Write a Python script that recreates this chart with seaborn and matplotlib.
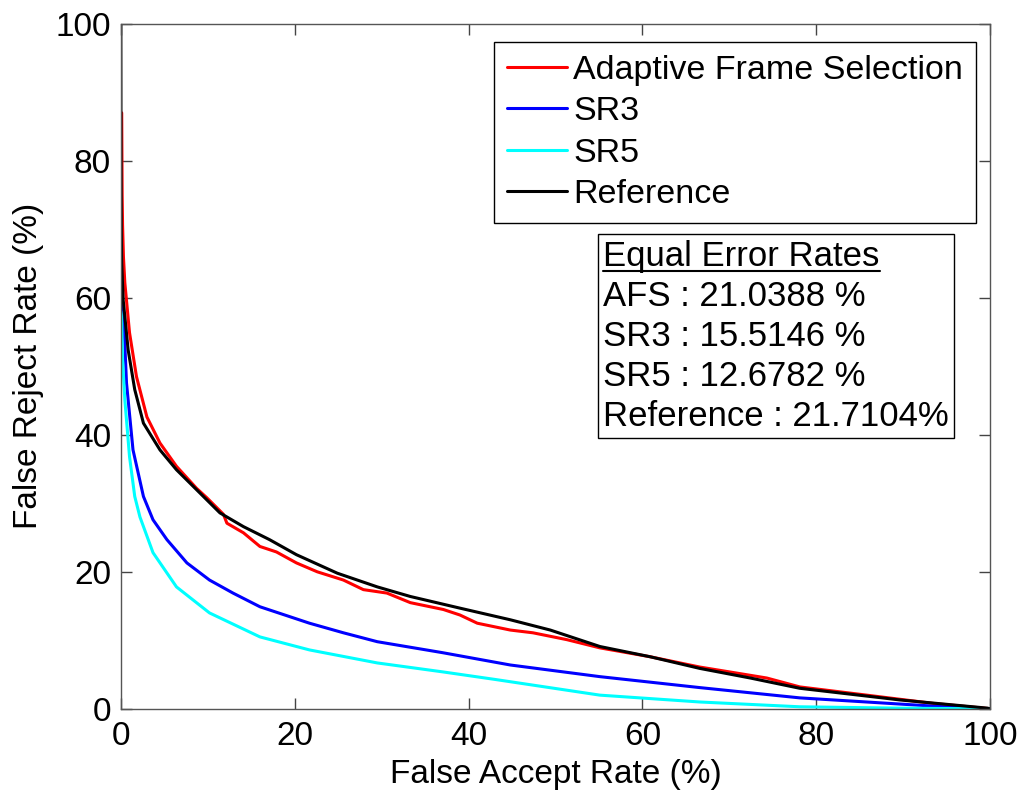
import matplotlib

matplotlib.use("Agg")
import numpy as np
import pandas as pd
import matplotlib.pyplot as plt
import seaborn as sns

# ---- data (FAR %, FRR %) ----
afs_far = [0.1, 0.12, 0.15, 0.2, 0.3, 0.46, 1.0, 1.8, 3.0, 4.5, 6.4, 8.7, 9.9, 11.8,
           12.2, 14.1, 16.0, 17.9, 20.2, 22.6, 25.6, 27.9, 30.6, 33.3, 37.1, 39.0,
           41.0, 44.8, 47.4, 51.3, 55.1, 60.9, 66.6, 74.3, 78.1, 85.8, 93.4, 99.7,
           100]
afs_frr = [87, 82, 75, 70.6, 66, 62.2, 54.9, 48.5, 42.6, 38.8, 35.4, 32.2, 30.8,
           28.4, 27.1, 25.7, 23.7, 22.9, 21.3, 20.0, 18.8, 17.4, 16.9, 15.5, 14.5,
           13.7, 12.5, 11.5, 11.1, 10.1, 8.9, 7.6, 6.1, 4.5, 3.2, 2.0, 0.8, 0.05, 0]

sr3_far = [0, 0.05, 0.1, 0.3, 0.65, 1.4, 2.6, 3.7, 5.3, 7.6, 10.2, 12.9, 16.0, 21.7,
           25.6, 29.5, 37.0, 44.8, 55.1, 66.6, 78.1, 89.6, 96.0, 100]
sr3_frr = [63, 60, 59, 58, 47.6, 37.8, 31.0, 27.6, 24.7, 21.3, 18.8, 16.9, 14.9, 12.5,
           11.1, 9.8, 8.2, 6.4, 4.7, 3.1, 1.6, 0.7, 0.2, 0]

sr5_far = [0, 0.08, 0.2, 0.46, 1.0, 1.6, 2.2, 3.7, 6.4, 10.2, 16.0, 21.7, 29.5, 37.0,
           43.0, 55.1, 66.6, 78.1, 89.6, 100]
sr5_frr = [58, 57.2, 51, 45.1, 36.8, 31.0, 28.0, 22.8, 17.8, 14.0, 10.5, 8.6, 6.7,
           5.4, 4.3, 2.0, 1.0, 0.3, 0.1, 0]

ref_far = [0, 0.02, 0.05, 0.1, 0.27, 0.84, 1.6, 2.6, 4.5, 6.4, 9.1, 11.4, 14.1, 17.1,
           20.2, 24.9, 29.5, 33.3, 39.0, 44.8, 49.4, 55.1, 60.9, 66.6, 72.4, 78.1,
           89.6, 99.7, 100]
ref_frr = [100, 80, 70, 65, 59.7, 52.4, 46.6, 41.7, 37.8, 34.9, 31.5, 28.6, 26.6,
           24.7, 22.5, 19.8, 17.8, 16.4, 14.7, 13.0, 11.5, 9.1, 7.6, 5.9, 4.5, 3.0,
           1.3, 0.1, 0]

series_names = ["Adaptive Frame Selection", "SR3", "SR5", "Reference"]
colors = ["#ff0000", "#0000ff", "#00ffff", "#000000"]
eer_title = "Equal Error Rates"
eer_lines = ["AFS : 21.0388 %", "SR3 : 15.5146 %", "SR5 : 12.6782 %",
             "Reference : 21.7104%"]

frames = []
for name, far, frr in zip(series_names,
                          [afs_far, sr3_far, sr5_far, ref_far],
                          [afs_frr, sr3_frr, sr5_frr, ref_frr]):
    frames.append(pd.DataFrame({"FAR": far, "FRR": frr, "method": name}))
df = pd.concat(frames, ignore_index=True)

sns.set_theme(style="ticks")
plt.rcParams["font.family"] = ["Liberation Sans", "DejaVu Sans"]
plt.rcParams.update({"text.color": "black", "axes.labelcolor": "black",
                     "xtick.color": "black", "ytick.color": "black"})

fig = plt.figure(figsize=(10.24, 7.92), dpi=100)
ax = fig.add_axes([0.118, 0.105, 0.849, 0.865])

sns.lineplot(data=df, x="FAR", y="FRR", hue="method", hue_order=series_names,
             palette=dict(zip(series_names, colors)), sort=False, estimator=None,
             linewidth=2.2, ax=ax)

ax.set_xlim(0, 100)
ax.set_ylim(0, 100)
ax.set_xticks(np.arange(0, 101, 20))
ax.set_yticks(np.arange(0, 101, 20))
ax.tick_params(direction="in", length=8, width=1, top=True, right=True,
               labelsize=24, colors="#444444", labelcolor="black")
ax.tick_params(axis="x", pad=9)
ax.tick_params(axis="y", pad=7)
for sp in ax.spines.values():
    sp.set_color("#555555")
    sp.set_linewidth(1)
ax.set_xlabel("False Accept Rate (%)", fontsize=24, labelpad=5)
ax.set_ylabel("False Reject Rate (%)", fontsize=24, labelpad=8)

handles, labels = ax.get_legend_handles_labels()
leg = ax.legend(handles, labels, loc="upper right", bbox_to_anchor=(0.984, 0.974),
                fontsize=24.5, handlelength=1.75, handletextpad=0.2,
                labelspacing=0.31, borderpad=0.38, borderaxespad=0, fancybox=False,
                framealpha=1, edgecolor="black")
leg.get_frame().set_linewidth(1)

# equal error rate box
tx, ty = 55.5, 68.5
ax.text(tx, ty, eer_title + "\n" + "\n".join(eer_lines), fontsize=25,
        va="top", ha="left", linespacing=1.27, zorder=5,
        bbox=dict(boxstyle="square,pad=0.15", facecolor="white",
                  edgecolor="black", linewidth=1))
head = ax.text(tx, ty, eer_title, fontsize=25, va="top", ha="left", alpha=0)
fig.canvas.draw()
bb = head.get_window_extent().transformed(ax.transData.inverted())
ax.plot([bb.x0, bb.x1], [bb.y0 + 0.2, bb.y0 + 0.2], color="black", lw=1.5,
        zorder=6)

fig.savefig("out.png", dpi=100, facecolor="w")
plt.close()
